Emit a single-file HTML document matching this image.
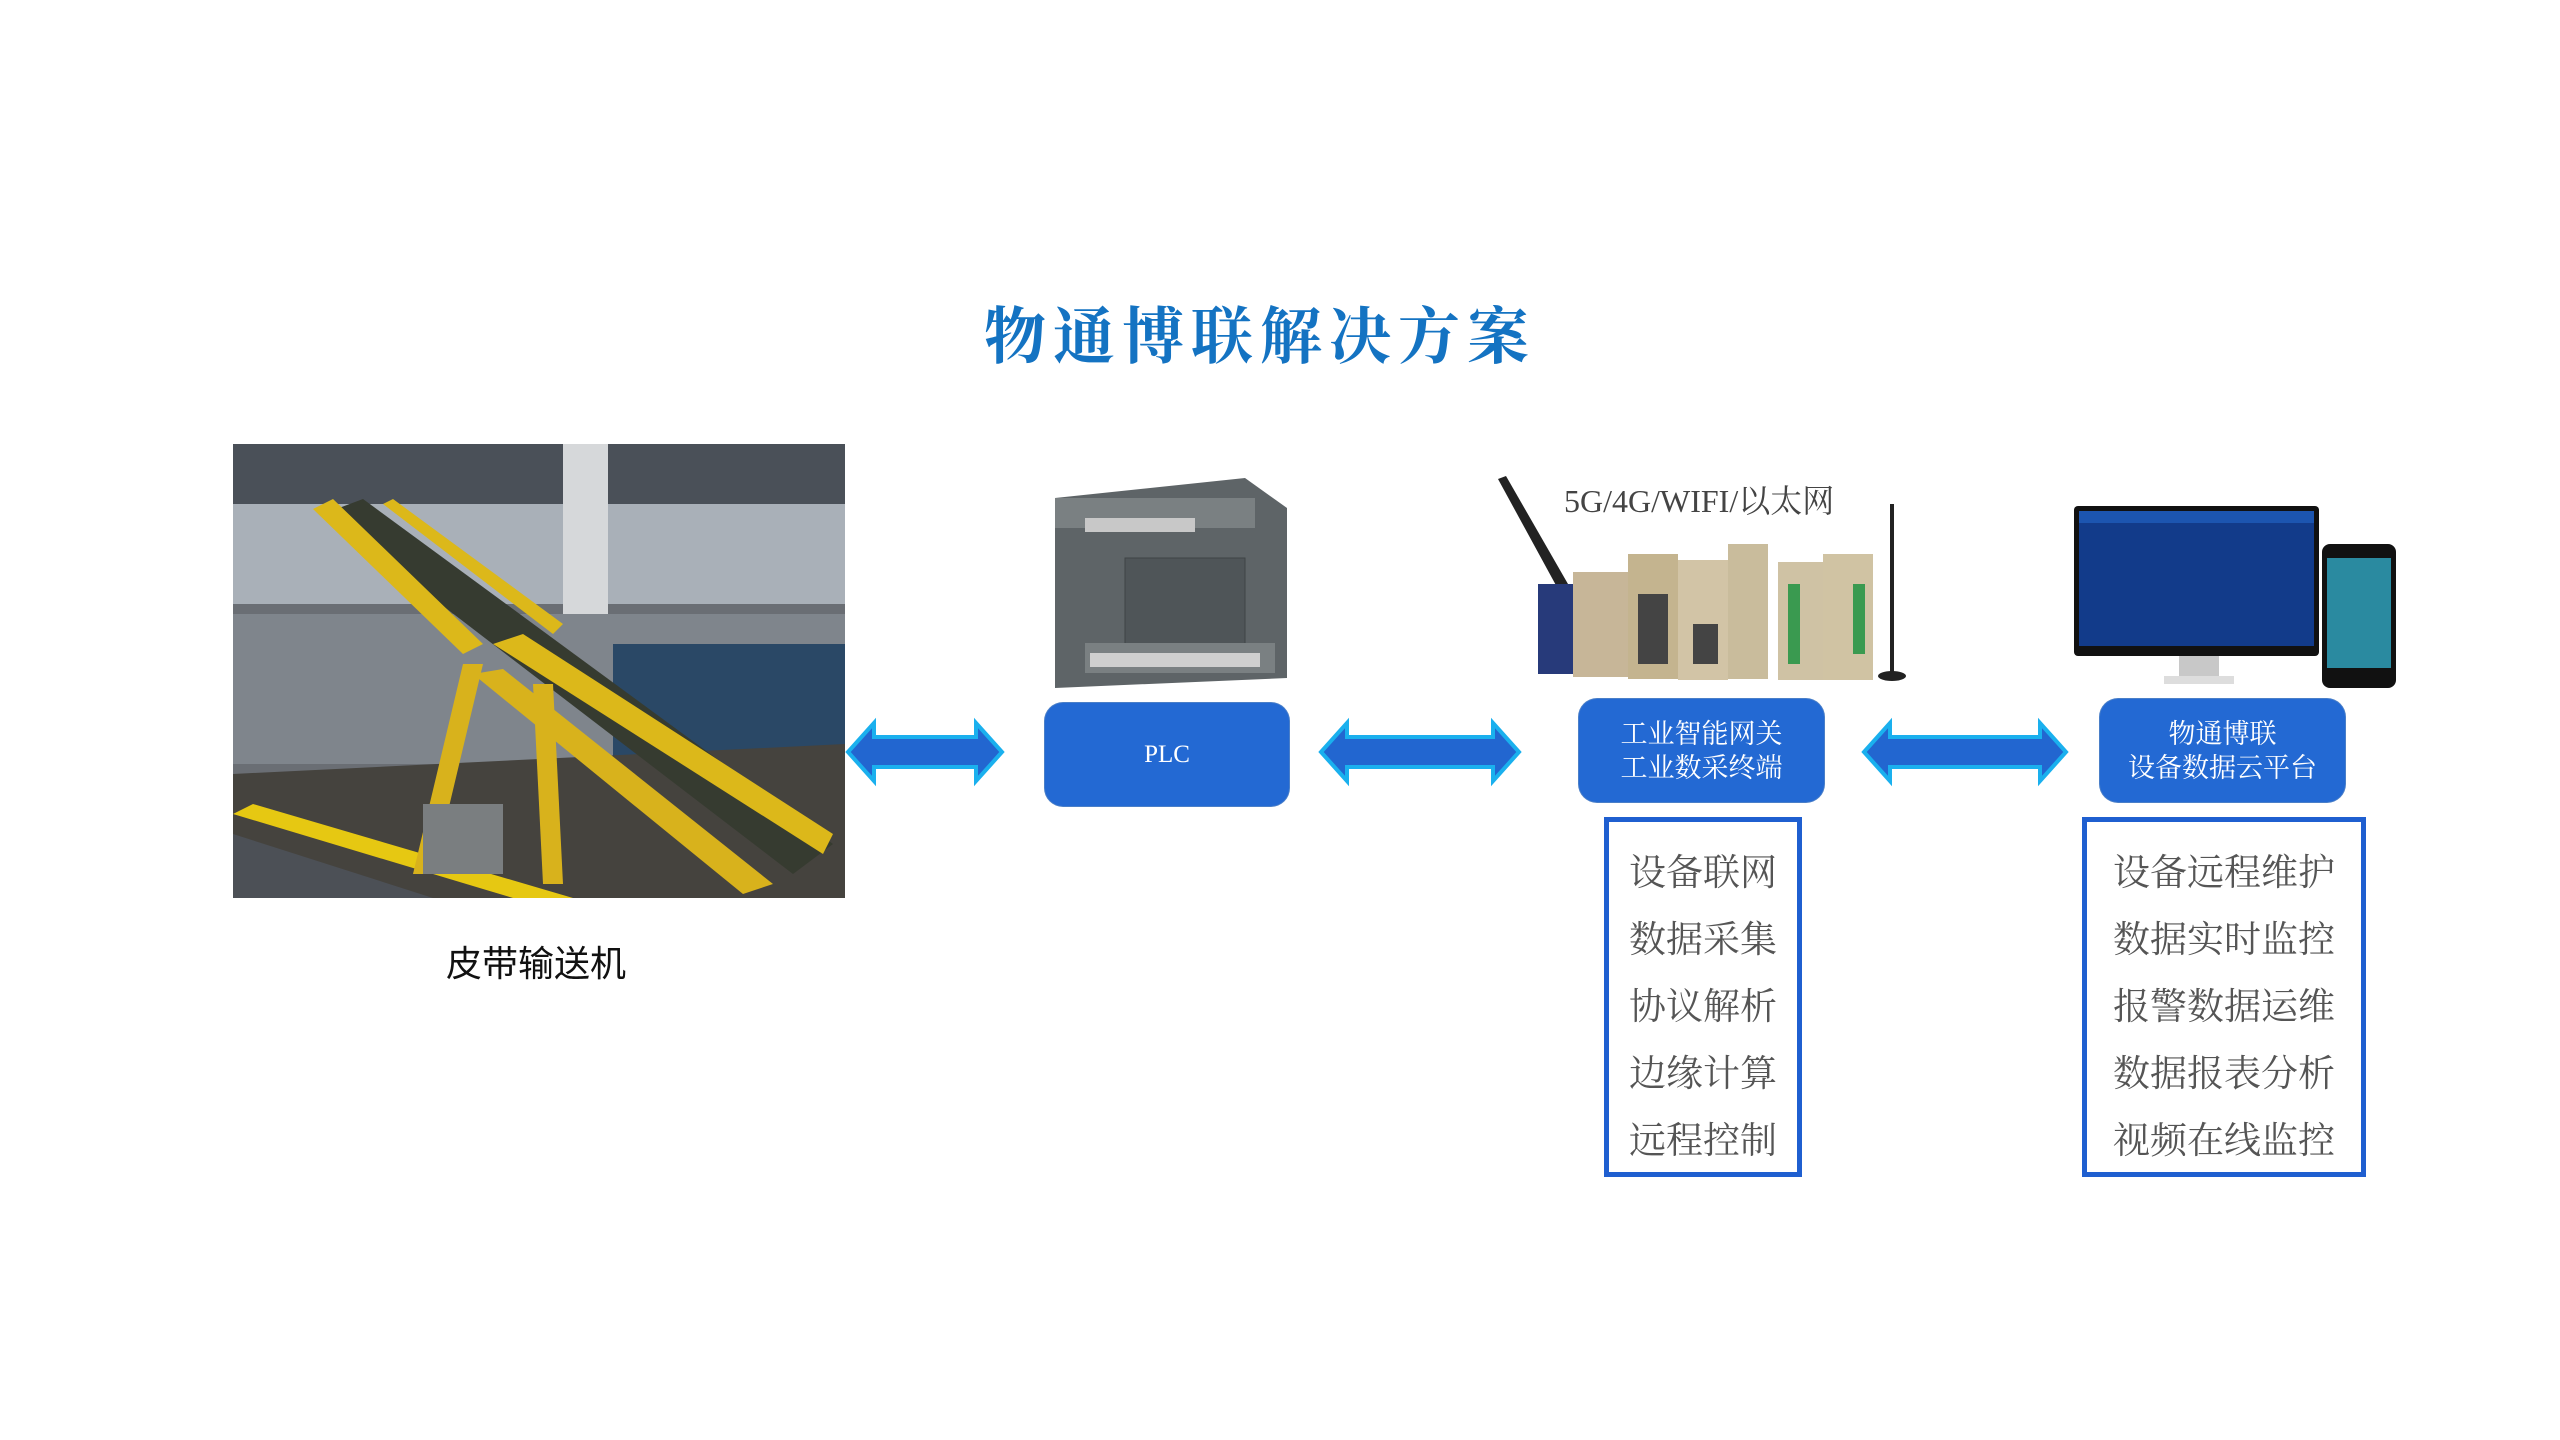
<!DOCTYPE html>
<html><head><meta charset="utf-8"><style>
body{margin:0;width:2560px;height:1440px;background:#fff;position:relative;overflow:hidden;font-family:"Liberation Serif","Noto Serif CJK SC",serif}
.a{position:absolute}
.box{position:absolute;background:#2369d3;border-radius:18px;color:#fff;display:flex;align-items:center;justify-content:center;text-align:center;font-size:27px;line-height:34px;box-shadow:0 0 0 1px #4a7fc8}
.list{position:absolute;border:5px solid #1f5fd0;box-sizing:border-box;color:#555;font-size:37px;font-family:"Liberation Serif","Noto Serif CJK SC",serif;text-align:center}
.list div{position:absolute;left:0;right:0;line-height:50px}
</style></head><body>
<div class="a" style="left:960px;top:287px;width:600px;text-align:center;font-size:62px;font-weight:bold;color:#1473c2;letter-spacing:7px;font-family:'Liberation Serif','Noto Serif CJK SC',serif">物通博联解决方案</div>

<svg class="a" style="left:233px;top:444px" width="612" height="454" viewBox="0 0 612 454">
<rect width="612" height="454" fill="#6a6e74"/>
<rect width="612" height="160" fill="#a9b0b8"/>
<rect x="0" y="0" width="612" height="60" fill="#4a5058"/>
<rect x="330" y="0" width="45" height="360" fill="#d6d8da"/>
<rect x="0" y="170" width="612" height="150" fill="#7f858c"/>
<rect x="380" y="200" width="232" height="130" fill="#2a4866"/>
<polygon points="0,330 612,300 612,454 0,454" fill="#45433e"/>
<polygon points="0,370 20,360 340,454 280,454" fill="#e6c812"/>
<polygon points="0,390 200,454 0,454" fill="#4c5056"/>
<polygon points="90,70 130,55 600,400 560,430" fill="#363b30"/>
<polygon points="80,65 100,55 250,200 230,210" fill="#dcb81a"/>
<polygon points="150,60 160,55 330,180 320,190" fill="#dcb81a"/>
<polygon points="260,200 290,190 600,390 590,410" fill="#dcb81a"/>
<polygon points="240,230 270,225 540,440 510,450" fill="#d8b21c"/>
<polygon points="230,220 250,220 200,430 180,430" fill="#d8b21c"/>
<polygon points="300,240 320,240 330,440 310,440" fill="#d8b21c"/>
<rect x="190" y="360" width="80" height="70" fill="#7a7e80"/>
</svg>
<div class="a" style="left:400px;top:935px;width:272px;text-align:center;font-size:36px;color:#111;font-family:'Liberation Sans','Noto Sans CJK SC',sans-serif">皮带输送机</div>

<svg class="a" style="left:1045px;top:478px" width="242" height="210" viewBox="0 0 242 210">
<polygon points="10,20 200,0 242,30 242,200 10,210" fill="#5e6467"/>
<rect x="10" y="20" width="200" height="30" fill="#7a8082"/>
<rect x="40" y="40" width="110" height="14" fill="#c8c8c8"/>
<rect x="80" y="80" width="120" height="100" fill="#4f5558" stroke="#3f4446"/>
<rect x="40" y="165" width="190" height="30" fill="#7a8082"/>
<rect x="45" y="175" width="170" height="14" fill="#cfcfcf"/>
</svg>

<div class="a" style="left:1564px;top:476px;font-size:32px;color:#444">5G/4G/WIFI/以太网</div>
<svg class="a" style="left:1478px;top:474px" width="450" height="210" viewBox="0 0 450 210">
<polygon points="20,5 28,2 90,110 80,115" fill="#222"/>
<rect x="60" y="110" width="50" height="90" fill="#273a7a"/>
<rect x="95" y="98" width="55" height="105" fill="#c7b698"/>
<rect x="150" y="80" width="50" height="125" fill="#c4b48f"/>
<rect x="200" y="86" width="50" height="120" fill="#d2c4a6"/>
<rect x="250" y="70" width="40" height="135" fill="#c9bc9c"/>
<rect x="300" y="88" width="45" height="118" fill="#cfc2a4"/>
<rect x="345" y="80" width="50" height="126" fill="#d0c3a3"/>
<rect x="160" y="120" width="30" height="70" fill="#444"/>
<rect x="215" y="150" width="25" height="40" fill="#444"/>
<rect x="310" y="110" width="12" height="80" fill="#3a9a50"/>
<rect x="375" y="110" width="12" height="70" fill="#3a9a50"/>
<rect x="412" y="30" width="4" height="170" fill="#222"/>
<ellipse cx="414" cy="202" rx="14" ry="5" fill="#222"/>
</svg>

<svg class="a" style="left:2074px;top:506px" width="325" height="182" viewBox="0 0 325 182">
<rect x="0" y="0" width="245" height="150" rx="4" fill="#111"/>
<rect x="5" y="5" width="235" height="135" fill="#123b8a"/>
<rect x="5" y="5" width="235" height="12" fill="#1c55b0"/>
<rect x="105" y="150" width="40" height="22" fill="#c8c8c8"/>
<rect x="90" y="170" width="70" height="8" fill="#ddd"/>
<rect x="248" y="38" width="74" height="144" rx="8" fill="#111"/>
<rect x="253" y="52" width="64" height="110" fill="#2a8aa0"/>
</svg>

<svg class="a" style="left:840px;top:715px" width="1240" height="75" viewBox="0 0 1240 75">
<g fill="#2266d0" stroke="#1ab0ee" stroke-width="4" stroke-linejoin="miter">
<polygon points="8,37 34,8 34,22 136,22 136,8 162,37 136,66 136,52 34,52 34,66"/>
<polygon points="481,37 507,8 507,22 653,22 653,8 679,37 653,66 653,52 507,52 507,66"/>
<polygon points="1024,37 1050,8 1050,22 1200,22 1200,8 1226,37 1200,66 1200,52 1050,52 1050,66"/>
</g>
</svg>

<div class="box" style="left:1045px;top:703px;width:244px;height:103px;font-size:25px">PLC</div>
<div class="box" style="left:1579px;top:699px;width:245px;height:103px">工业智能网关<br>工业数采终端</div>
<div class="box" style="left:2100px;top:699px;width:245px;height:103px">物通博联<br>设备数据云平台</div>

<div class="list" style="left:1604px;top:817px;width:198px;height:360px">
<div style="top:27px">设备联网</div><div style="top:94px">数据采集</div><div style="top:161px">协议解析</div><div style="top:228px">边缘计算</div><div style="top:295px">远程控制</div>
</div>
<div class="list" style="left:2082px;top:817px;width:284px;height:360px">
<div style="top:27px">设备远程维护</div><div style="top:94px">数据实时监控</div><div style="top:161px">报警数据运维</div><div style="top:228px">数据报表分析</div><div style="top:295px">视频在线监控</div>
</div>
</body></html>
